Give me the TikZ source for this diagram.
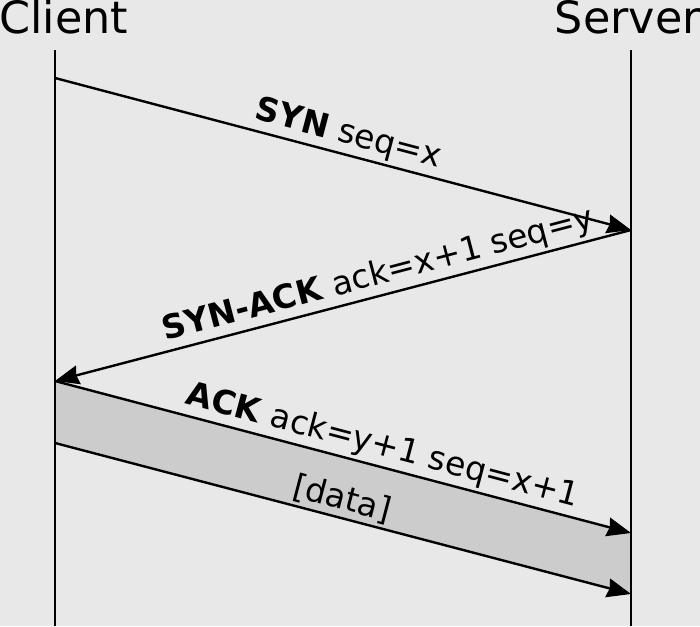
\documentclass[tikz,border=0pt]{standalone}
\usepackage{fontspec}
\setmainfont{DejaVu Sans}
\usetikzlibrary{arrows.meta}
\definecolor{bgcolor}{RGB}{232, 232, 232}
\definecolor{datacolor}{RGB}{204, 204, 204}

\begin{document}
\begin{tikzpicture}[x=1pt, y=-1pt]
        % Background
        \fill[bgcolor] (0, 0) rectangle (700, 626);
        \useasboundingbox (0, 0) rectangle (700, 626);

        % Hosts
        \node[font=\fontsize{44.5}{44.5}\selectfont, anchor=base west, inner sep=0pt] (client) at (-1, 34) {Client};
        \node[font=\fontsize{44.5}{44.5}\selectfont, anchor=base east, inner sep=0pt] (server) at (701, 34) {Server};

        % Points on the lifelines
        \coordinate (ctop) at (55, 50);
        \coordinate (cbot) at (55, 626);
        \coordinate (stop) at (631, 50);
        \coordinate (sbot) at (631, 626);
        \coordinate (c1) at (55, 78);
        \coordinate (s1) at (631, 230);
        \coordinate (c2) at (55, 381);
        \coordinate (s2) at (631, 533);
        \coordinate (c3) at (55, 443);
        \coordinate (s3) at (631, 594);

        % Data band
        \fill[datacolor] (c2) -- (s2) -- (s3) -- (c3) -- cycle;

        % Lifelines
        \draw[line width=1.6pt] (ctop) -- (cbot);
        \draw[line width=1.6pt] (stop) -- (sbot);

        % Segments
        \draw[-{Stealth[length=24pt, width=19pt, inset=2pt]}, line width=2.4pt] (c1) -- node[pos=0.5, above, sloped, inner sep=3pt, font=\fontsize{33}{33}\selectfont] (syn) {\textbf{SYN} seq=x} (s1);
        \draw[-{Stealth[length=24pt, width=19pt, inset=2pt]}, line width=2.4pt] (s1) -- node[pos=0.43, above, sloped, inner sep=3pt, font=\fontsize{33}{33}\selectfont] (synack) {\textbf{SYN-ACK} ack=x+1 seq=y} (c2);
        \draw[-{Stealth[length=24pt, width=19pt, inset=2pt]}, line width=2.4pt] (c2) -- node[pos=0.56, above, sloped, inner sep=3pt, font=\fontsize{33}{33}\selectfont] (ack) {\textbf{ACK} ack=y+1 seq=x+1} (s2);
        \draw[-{Stealth[length=24pt, width=19pt, inset=2pt]}, line width=2.4pt] (c3) -- node[pos=0.49, above, sloped, inner sep=3pt, font=\fontsize{33}{33}\selectfont] (data) {[data]} (s3);

    \end{tikzpicture}
\end{document}
